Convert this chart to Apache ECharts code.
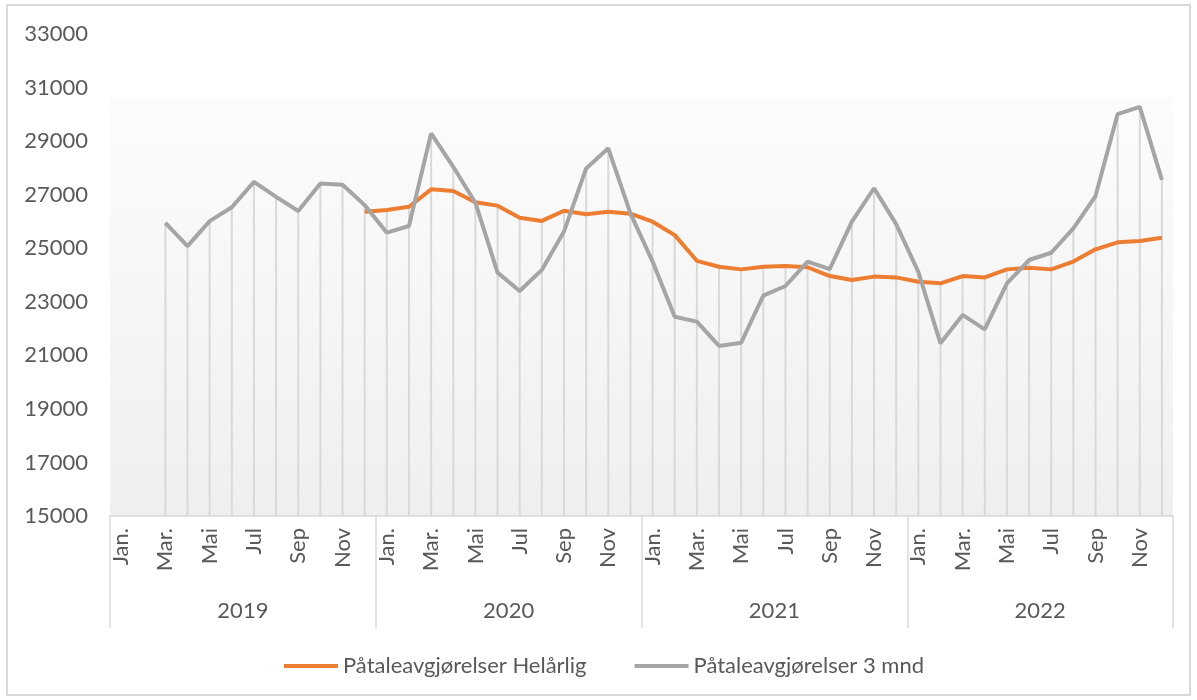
<!DOCTYPE html>
<html>
<head>
<meta charset="utf-8">
<script src="https://cdn.jsdelivr.net/npm/echarts@6/dist/echarts.min.js"></script>
<style>
  html, body { margin: 0; padding: 0; background: #fff; }
  #chart { width: 1197px; height: 700px; }
</style>
</head>
<body>
<div id="chart"></div>
<script>
// data
const years = ['2019', '2020', '2021', '2022'];
const monthNames = ['Jan.', 'Feb.', 'Mar.', 'Apr.', 'Mai', 'Jun', 'Jul', 'Aug', 'Sep', 'Okt', 'Nov', 'Des'];

const helarlig = [
  null, null, null, null, null, null, null, null, null, null, null, 26360,
  26430, 26550, 27200, 27140, 26720, 26590, 26140, 26020, 26400, 26270, 26360, 26290,
  25990, 25490, 24530, 24310, 24210, 24310, 24340, 24290, 23960, 23810, 23940, 23910,
  23750, 23690, 23960, 23910, 24210, 24270, 24210, 24500, 24960, 25220, 25270, 25390
];
const treMnd = [
  null, null, 25950, 25080, 26010, 26530, 27480, 26920, 26390, 27420, 27370, 26610,
  25580, 25830, 29290, 28040, 26700, 24090, 23400, 24190, 25620, 27980, 28730, 26300,
  24500, 22440, 22260, 21350, 21470, 23230, 23590, 24500, 24220, 25990, 27240, 25900,
  24120, 21450, 22510, 21970, 23690, 24560, 24830, 25740, 26950, 30010, 30280, 27550
];

const yMin = 15000, yMax = 33000, yStep = 2000;

// kategorier: måned for hvert år
const categories = [];
years.forEach(function () {
  monthNames.forEach(function (m) { categories.push(m); });
});

// loddlinjer fra høyeste punkt ned til aksen
const dropData = [];
categories.forEach(function (c, i) {
  const vals = [helarlig[i], treMnd[i]].filter(function (v) { return v != null; });
  if (vals.length) dropData.push([i, Math.max.apply(null, vals)]);
});

const textColor = '#595959';
const fontFamily = 'Lato, "Noto Sans", sans-serif';
const fontSize = 22;

let myChart = echarts.init(document.getElementById('chart'));

let option = {
  animation: false,
  textStyle: { fontFamily: fontFamily },
  graphic: [{
    type: 'rect',
    silent: true,
    shape: { x: 7, y: 5, width: 1183, height: 690 },
    style: { fill: 'none', stroke: '#d9d9d9', lineWidth: 2 }
  }],
  grid: {
    left: 110,
    right: 24,
    top: 34,
    bottom: 184,
    show: true,
    borderWidth: 0,
    backgroundColor: new echarts.graphic.LinearGradient(0, 0, 0, 1, [
      { offset: 0, color: '#ffffff' },
      { offset: 0.13, color: '#ffffff' },
      { offset: 0.132, color: '#fcfcfc' },
      { offset: 1, color: '#efefef' }
    ])
  },
  legend: {
    left: 279,
    top: 650,
    data: ['Påtaleavgjørelser Helårlig', 'Påtaleavgjørelser 3 mnd'],
    icon: 'rect',
    itemWidth: 54,
    itemHeight: 4,
    itemGap: 48,
    textStyle: { color: textColor, fontSize: fontSize, fontFamily: fontFamily }
  },
  xAxis: [
    {
      type: 'category',
      position: 'bottom',
      data: categories,
      boundaryGap: true,
      axisLine: { lineStyle: { color: '#d9d9d9', width: 1.5 } },
      axisTick: { show: false },
      axisLabel: {
        interval: 1,
        rotate: 90,
        margin: 12,
        color: textColor,
        fontSize: fontSize,
        fontFamily: fontFamily
      },
      splitLine: { show: false }
    },
    {
      type: 'category',
      position: 'bottom',
      data: years,
      boundaryGap: true,
      axisLine: { show: false },
      axisTick: { show: true, length: 112, lineStyle: { color: '#d9d9d9', width: 1.5 } },
      axisLabel: { margin: 84, color: textColor, fontSize: fontSize, fontFamily: fontFamily },
      splitLine: { show: false }
    }
  ],
  yAxis: {
    type: 'value',
    min: yMin,
    max: yMax,
    interval: yStep,
    axisLine: { show: false },
    axisTick: { show: false },
    splitLine: { show: false },
    axisLabel: {
      margin: 22,
      color: textColor,
      fontSize: fontSize,
      fontFamily: fontFamily,
      formatter: function (v) { return String(v); }
    }
  },
  series: [
    {
      name: 'drop',
      type: 'custom',
      xAxisIndex: 0,
      silent: true,
      z: 1,
      data: dropData,
      renderItem: function (params, api) {
        const top = api.coord([api.value(0), api.value(1)]);
        const bottom = api.coord([api.value(0), yMin]);
        return {
          type: 'line',
          shape: { x1: top[0], y1: top[1], x2: bottom[0], y2: bottom[1] },
          style: { stroke: '#d9d9d9', lineWidth: 2 }
        };
      }
    },
    {
      name: 'Påtaleavgjørelser Helårlig',
      type: 'line',
      xAxisIndex: 0,
      data: helarlig,
      showSymbol: false,
      symbol: 'none',
      z: 3,
      lineStyle: { color: '#ED7D31', width: 4 },
      itemStyle: { color: '#ED7D31' }
    },
    {
      name: 'Påtaleavgjørelser 3 mnd',
      type: 'line',
      xAxisIndex: 0,
      data: treMnd,
      showSymbol: false,
      symbol: 'none',
      z: 4,
      lineStyle: { color: '#A5A5A5', width: 4 },
      itemStyle: { color: '#A5A5A5' }
    }
  ]
};

myChart.setOption(option);
</script>
</body>
</html>
